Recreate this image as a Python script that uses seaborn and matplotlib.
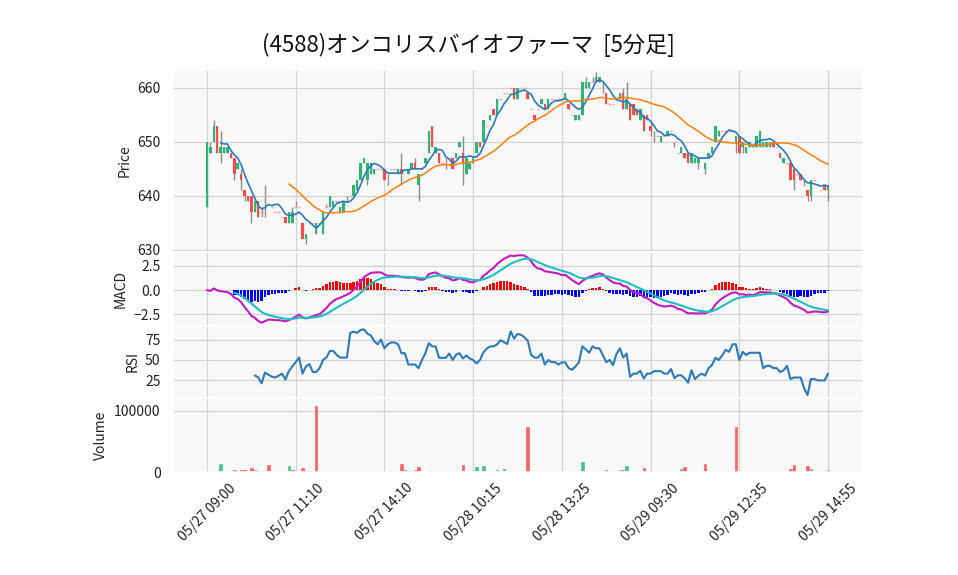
import numpy as np
import pandas as pd
import matplotlib
matplotlib.use("Agg")
import matplotlib.pyplot as plt
import seaborn as sns

title = "(4588)オンコリスバイオファーマ  [5分足]"
tick_labels = ["05/27 09:00", "05/27 11:10", "05/27 14:10", "05/28 10:15",
               "05/28 13:25", "05/29 09:30", "05/29 12:35", "05/29 14:55"]
tick_index = [0, 26, 52, 78, 104, 130, 156, 182]

opens = [638,648,650,653,648,648,648,648,647,645,
         644,641,640,640,637,639,637,640,640,638,
         637,637,636,636,635,635,638,638,635,632,
         635,635,633,635,633,638,638,638,639,637,
         637,639,640,640,641,643,646,643,644,644,
         645,645,645,643,645,645,644,645,645,644,
         645,646,642,645,646,648,653,648,648,646,
         646,647,647,647,649,648,644,645,646,648,
         650,650,653,654,656,655,658,659,659,660,
         660,658,660,660,659,656,655,656,657,657,
         656,658,658,658,657,658,657,655,654,654,
         655,660,660,661,661,661,660,659,657,657,
         658,658,659,656,657,657,656,654,655,655,
         653,651,651,650,651,651,652,650,648,648,
         648,648,646,646,646,647,645,647,648,650,
         651,652,652,652,652,650,651,649,648,649,
         649,649,649,649,649,649,650,649,648,646,
         646,646,645,644,644,642,641,640,643,642,
         641,642,641]
highs = [650,650,654,653,652,649,649,648,647,646,
         645,641,640,640,639,639,638,642,640,638,
         637,637,636,636,637,638,639,638,635,633,
         635,635,635,635,637,638.5,640,639,639,638,
         639,640,640,642,643,646,647,646,646,645,
         645,645,645,644,645,645,645,648,645,645,
         646,647,644,645,647,652,653,649,648,646,
         647,647,647,648,650,651,647,646,647,650,
         650,654,653,655,656,658,658,659,659,660,
         660,660,660,660,659,656,655,656,658,657,
         658,658,658,658,657,659,657,655,655,655,
         661,662,661,662,663,662,661,659,657,657,
         658,659,660,661,657,657,656,656,655,655,
         654,652,651,651,651,652,652,650,648,649,
         648,648,648,647,647,647,646,648,649,653,
         652,652,652,652,652,651,651,650,649,650,
         649,651,652,650,650,650,650,649,648,647,
         646,646,645,644,644,643,641,643,643,642,
         641,642,642]
lows = [638,648,650,648,646,648,648,647,643,645,
        641,639,639,635,637,636,636,636,640,638,
        637,637,636,635,635,635,638,638,632,631,
        635,635,633,635,633,638,638,638,639,637,
        637,639,640,640,641,643,646,642,644,644,
        645,645,643,642,645,645,644,642,645,644,
        645,645,639,645,646,648,649,648,646,646,
        645,647,645,647,649,642,644,645,646,648,
        649,650,653,654,655,655,658,659,659,660,
        658,658,660,660,658,656,654,656,657,656,
        656,658,658,658,657,658,656,655,654,654,
        655,660,660,661,661,661,659,657,657,657,
        658,658,656,656,654,655,655,654,652,654,
        651,650,651,650,651,651,652,649,648,648,
        647,646,646,646,645,647,644,647,648,650,
        651,652,652,652,652,648,648,648,648,649,
        649,649,649,649,649,649,649,649,647,646,
        646,643,641,644,643,642,639,639,643,642,
        641,641,639]
closes = [650,649,653,648,649,649,649,647,644,646,
          643,640,639,637,639,636,637,640,640,638,
          637,637,636,635,637,637,638,638,632,633,
          635,635,635,635,637,638,640,639,639,638,
          639,639,640,642,643,646,647,646,646,645,
          645,645,643,643,645,645,645,644,645,645,
          646,645,644,645,647,652,649,649,646,646,
          646,647,645,648,650,646,647,646,647,650,
          649,654,653,655,655,658,658,659,659,660,
          658,660,660,660,658,656,654,656,658,656,
          658,658,658,658,657,659,656,655,655,655,
          661,661,661,661,662,662,660,657,657,657,
          658,659,656,658,654,655,655,656,652,654,
          652,651,651,651,651,652,652,650,648,649,
          647,646,648,647,647,647,646,648,649,653,
          652,652,652,652,652,651,648,650,649,650,
          649,651,652,650,650,650,649,649,647,647,
          646,643,643,644,643,642,640,643,643,642,
          641,641,642]
volumes = [500,1000,2000,300,13600,500,500,500,3800,2000,
           3800,3800,500,7000,4000,2000,500,500,12000,300,
           300,300,300,500,10400,3800,300,300,7000,1600,
           1000,300,108700,500,500,300,500,500,300,500,
           500,300,300,1600,500,500,1600,1600,300,300,
           300,300,500,300,1600,300,300,13000,3800,2000,
           2000,3800,8700,300,500,1600,1600,300,1600,300,
           300,300,500,500,500,12000,500,500,500,8700,
           500,10400,300,500,2000,3800,300,5500,300,300,
           500,300,300,300,73000,300,500,300,2000,500,
           500,300,300,300,300,500,500,300,500,500,
           15800,2000,500,300,500,500,2000,3800,300,300,
           300,3800,3800,10400,500,500,2000,500,7100,500,
           2000,300,300,500,300,500,300,300,300,5500,
           8700,500,2000,500,500,300,13600,500,500,500,
           500,300,300,300,300,73000,500,500,500,500,
           300,1600,500,500,500,500,500,300,2000,500,
           300,5500,12000,300,500,300,10400,5500,300,300,
           300,500,3800]

df = pd.DataFrame({"o": opens, "h": highs, "l": lows, "c": closes, "v": volumes}, dtype=float)
idx = np.arange(len(df))
o, h, l, c, v = (df[k].to_numpy() for k in "ohlcv")

ma5 = df["c"].rolling(5).mean()
ma25 = df["c"].rolling(25).mean()
ema12 = df["c"].ewm(span=12, adjust=False).mean()
ema26 = df["c"].ewm(span=26, adjust=False).mean()
macd = ema12 - ema26
signal = macd.ewm(span=9, adjust=False).mean()
signal.iloc[:8] = np.nan
hist = macd - signal
delta = df["c"].diff()
gain = delta.clip(lower=0).rolling(14).mean()
loss = (-delta.clip(upper=0)).rolling(14).mean()
rsi = 100 * gain / (gain + loss)

sns.set_theme(style="whitegrid")
plt.rcParams["font.family"] = ["Noto Sans CJK JP", "DejaVu Sans"]
plt.rcParams["axes.unicode_minus"] = True

GREEN = "#2bb673"
RED = "#fa4a4a"
VGREEN = "#4cc48c"
VRED = "#ff6262"
BG = "#f8f8f8"
GRID = "#d2d2d2"

fig = plt.figure(figsize=(9.58, 5.75), dpi=100)
W, H = 958.0, 575.0
left, right = 173, 863

def panel(top, bot):
    return fig.add_axes([left / W, 1 - bot / H, (right - left) / W, (bot - top) / H])

ax1 = panel(70, 252)
ax2 = panel(252, 326)
ax3 = panel(326, 398)
ax4 = panel(398, 472)

# candles
up = c > o
dn = c < o
dj = c == o
ax1.vlines(idx, l, h, color="#8c8c8c", lw=1.0, zorder=2)
ax1.bar(idx[up], (c - o)[up], bottom=o[up], width=0.72, color=GREEN, zorder=3, linewidth=0)
ax1.bar(idx[dn], (o - c)[dn], bottom=c[dn], width=0.72, color=RED, zorder=3, linewidth=0)
ax1.hlines(c[dj], idx[dj] - 0.36, idx[dj] + 0.36, color="#ff9c9c", lw=1.0, zorder=3)
sns.lineplot(x=idx, y=ma5.to_numpy(), ax=ax1, color="#2b7bba", lw=1.2, zorder=4)
sns.lineplot(x=idx, y=ma25.to_numpy(), ax=ax1, color="#ff7f0e", lw=1.1, zorder=4)
ax1.set_ylim(629.6, 663.3)
ax1.set_yticks([630, 640, 650, 660])
ax1.set_ylabel("Price")

# MACD
hv = hist.to_numpy()
hcol = np.where(hv >= 0, "#ff0000", "#0000ff")
ax2.bar(idx, np.nan_to_num(hv), width=0.72, color=hcol, zorder=2, linewidth=0)
sns.lineplot(x=idx, y=macd.to_numpy(), ax=ax2, color="#c21bc2", lw=1.5, zorder=3)
sns.lineplot(x=idx, y=signal.to_numpy(), ax=ax2, color="#1cc0c0", lw=1.5, zorder=3)
ax2.set_ylim(-3.7, 3.94)
ax2.set_yticks([-2.5, 0.0, 2.5])
ax2.set_ylabel("MACD")

# RSI
sns.lineplot(x=idx, y=rsi.to_numpy(), ax=ax3, color="#2c7bb6", lw=1.5, zorder=3)
ax3.set_ylim(3.5, 91.6)
ax3.set_yticks([25, 50, 75])
ax3.set_ylabel("RSI")

# Volume (colored by change from previous close)
prev = np.r_[o[0], c[:-1]]
vcol = np.where(c > prev, VGREEN, VRED)
ax4.bar(idx, v, width=0.72, color=vcol, edgecolor=vcol, linewidth=0.5, zorder=2)
ax4.set_ylim(0, 121300)
ax4.set_yticks([0, 100000])
ax4.set_yticklabels(["0", "100000"])
ax4.set_ylabel("Volume")

for ax in (ax1, ax2, ax3, ax4):
    ax.set_facecolor(BG)
    ax.set_xlim(-9.96, 192.26)
    ax.set_xticks(tick_index)
    ax.grid(True, color=GRID, lw=0.9)
    ax.set_axisbelow(True)
    for s in ax.spines.values():
        s.set_color("white")
        s.set_linewidth(1.2)
    ax.tick_params(axis="y", length=0, pad=9, labelsize=10, labelcolor="#222222")
    ax.yaxis.label.set_size(10)
    ax.yaxis.label.set_color("#222222")
    ax.set_xlabel("")
    if ax is not ax4:
        ax.tick_params(axis="x", length=0, labelbottom=False)

ax4.set_xticklabels(tick_labels, rotation=45, ha="center")
ax4.tick_params(axis="x", length=3.5, width=1, color="#222222", labelsize=10, labelcolor="#222222", pad=3)

fig.text(468 / W, 1 - 45 / H, title, ha="center", va="center", fontsize=16, color="#111111")

fig.savefig("out.png", dpi=100, facecolor="white")
